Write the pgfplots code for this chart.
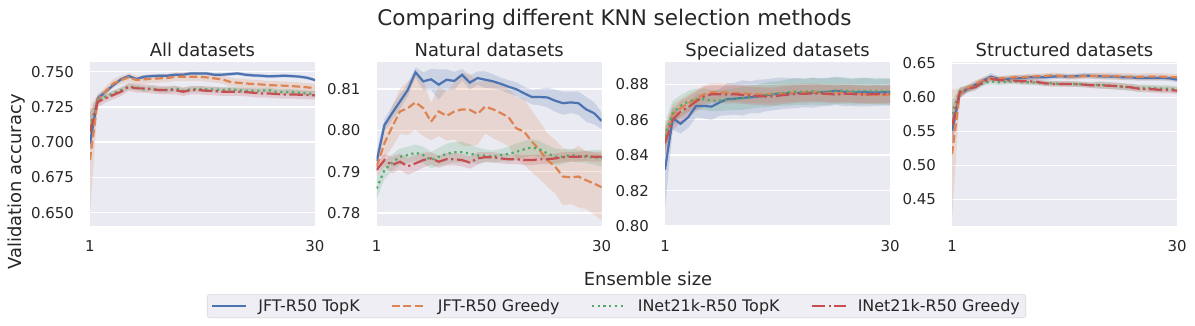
\documentclass[border=0pt]{standalone}
\usepackage{fontspec}
\setmainfont{DejaVu Sans}
\usepackage{pgfplots}
\pgfplotsset{compat=1.18}
\usepackage{pgfplotstable}
\usepgfplotslibrary{fillbetween}
\definecolor{cB}{HTML}{4C72B0}
\definecolor{cO}{HTML}{DD8452}
\definecolor{cG}{HTML}{55A868}
\definecolor{cR}{HTML}{C44E52}
\definecolor{bgc}{HTML}{EAEAF2}
\definecolor{legbg}{HTML}{EEEEF4}
\definecolor{txt}{HTML}{262626}

\pgfplotstableread{
x b bd o od g gd r rd
1 0.6992 0.0060 0.6874 0.0380 0.7110 0.0100 0.7074 0.0140
2 0.7311 0.0030 0.7299 0.0040 0.7299 0.0030 0.7287 0.0040
3 0.7358 0.0015 0.7363 0.0030 0.7323 0.0020 0.7311 0.0030
4 0.7405 0.0015 0.7417 0.0030 0.7346 0.0020 0.7335 0.0030
5 0.7446 0.0015 0.7441 0.0030 0.7370 0.0020 0.7358 0.0030
6 0.7469 0.0012 0.7460 0.0030 0.7394 0.0020 0.7394 0.0030
7 0.7448 0.0012 0.7441 0.0030 0.7389 0.0020 0.7382 0.0030
8 0.7465 0.0012 0.7446 0.0030 0.7375 0.0020 0.7382 0.0030
9 0.7469 0.0012 0.7450 0.0030 0.7382 0.0020 0.7375 0.0030
10 0.7472 0.0012 0.7453 0.0030 0.7370 0.0020 0.7370 0.0030
11 0.7472 0.0012 0.7455 0.0030 0.7370 0.0020 0.7370 0.0030
12 0.7479 0.0012 0.7465 0.0030 0.7382 0.0020 0.7370 0.0030
13 0.7479 0.0012 0.7465 0.0030 0.7365 0.0020 0.7358 0.0030
14 0.7488 0.0012 0.7465 0.0030 0.7375 0.0020 0.7370 0.0030
15 0.7488 0.0012 0.7465 0.0030 0.7379 0.0020 0.7370 0.0030
16 0.7488 0.0012 0.7460 0.0030 0.7375 0.0020 0.7365 0.0030
17 0.7479 0.0012 0.7453 0.0030 0.7375 0.0020 0.7363 0.0030
18 0.7479 0.0012 0.7446 0.0030 0.7370 0.0020 0.7358 0.0030
19 0.7483 0.0012 0.7429 0.0030 0.7375 0.0020 0.7358 0.0030
20 0.7488 0.0012 0.7422 0.0030 0.7370 0.0020 0.7358 0.0030
21 0.7479 0.0012 0.7417 0.0030 0.7365 0.0020 0.7356 0.0030
22 0.7474 0.0012 0.7413 0.0030 0.7365 0.0020 0.7351 0.0030
23 0.7472 0.0012 0.7410 0.0030 0.7365 0.0020 0.7346 0.0030
24 0.7467 0.0012 0.7405 0.0030 0.7370 0.0020 0.7346 0.0030
25 0.7469 0.0012 0.7403 0.0030 0.7358 0.0020 0.7342 0.0030
26 0.7472 0.0012 0.7401 0.0030 0.7356 0.0020 0.7339 0.0030
27 0.7469 0.0012 0.7398 0.0030 0.7356 0.0020 0.7339 0.0030
28 0.7465 0.0012 0.7394 0.0030 0.7351 0.0020 0.7337 0.0030
29 0.7457 0.0012 0.7389 0.0030 0.7346 0.0020 0.7335 0.0030
30 0.7441 0.0012 0.7384 0.0030 0.7342 0.0020 0.7332 0.0030
}\tA

\pgfplotstableread{
x b bd o od g gd r rd
1 0.7925 0.0025 0.7912 0.0012 0.7859 0.0025 0.7904 0.0015
2 0.8013 0.0015 0.7969 0.0035 0.7904 0.0022 0.7928 0.0015
3 0.8042 0.0017 0.8009 0.0050 0.7922 0.0020 0.7916 0.0020
4 0.8070 0.0018 0.8046 0.0055 0.7936 0.0020 0.7924 0.0020
5 0.8098 0.0016 0.8054 0.0065 0.7940 0.0020 0.7913 0.0020
6 0.8141 0.0012 0.8068 0.0067 0.7946 0.0020 0.7920 0.0020
7 0.8119 0.0022 0.8054 0.0068 0.7940 0.0020 0.7928 0.0018
8 0.8124 0.0025 0.8021 0.0045 0.7928 0.0020 0.7932 0.0015
9 0.8111 0.0037 0.8046 0.0060 0.7936 0.0022 0.7924 0.0015
10 0.8123 0.0025 0.8035 0.0060 0.7943 0.0025 0.7930 0.0015
11 0.8120 0.0022 0.8046 0.0068 0.7947 0.0025 0.7930 0.0015
12 0.8135 0.0014 0.8051 0.0088 0.7947 0.0025 0.7928 0.0015
13 0.8116 0.0017 0.8050 0.0088 0.7944 0.0022 0.7922 0.0015
14 0.8127 0.0016 0.8040 0.0075 0.7939 0.0020 0.7932 0.0015
15 0.8123 0.0020 0.8058 0.0065 0.7939 0.0015 0.7935 0.0012
16 0.8119 0.0017 0.8051 0.0070 0.7936 0.0015 0.7935 0.0012
17 0.8113 0.0015 0.8042 0.0070 0.7940 0.0015 0.7932 0.0012
18 0.8106 0.0016 0.8032 0.0070 0.7943 0.0018 0.7930 0.0012
19 0.8100 0.0017 0.8005 0.0075 0.7948 0.0020 0.7930 0.0012
20 0.8090 0.0016 0.7997 0.0080 0.7954 0.0020 0.7928 0.0012
21 0.8081 0.0018 0.7973 0.0075 0.7959 0.0020 0.7928 0.0012
22 0.8081 0.0020 0.7952 0.0070 0.7954 0.0020 0.7930 0.0012
23 0.8080 0.0024 0.7928 0.0065 0.7944 0.0020 0.7930 0.0012
24 0.8072 0.0027 0.7912 0.0065 0.7936 0.0020 0.7932 0.0012
25 0.8066 0.0028 0.7888 0.0070 0.7936 0.0018 0.7935 0.0012
26 0.8068 0.0026 0.7886 0.0065 0.7940 0.0015 0.7936 0.0012
27 0.8066 0.0028 0.7888 0.0075 0.7938 0.0015 0.7936 0.0012
28 0.8051 0.0030 0.7879 0.0070 0.7936 0.0015 0.7938 0.0012
29 0.8042 0.0027 0.7871 0.0075 0.7935 0.0018 0.7936 0.0012
30 0.8023 0.0020 0.7862 0.0080 0.7932 0.0020 0.7936 0.0012
}\tB

\pgfplotstableread{
x b bd o od g gd r rd
1 0.8318 0.0220 0.8487 0.0080 0.8506 0.0080 0.8468 0.0080
2 0.8609 0.0065 0.8628 0.0060 0.8637 0.0070 0.8599 0.0060
3 0.8577 0.0055 0.8665 0.0050 0.8678 0.0060 0.8646 0.0060
4 0.8614 0.0060 0.8693 0.0050 0.8703 0.0060 0.8671 0.0060
5 0.8678 0.0065 0.8716 0.0050 0.8716 0.0060 0.8703 0.0055
6 0.8678 0.0070 0.8744 0.0050 0.8716 0.0060 0.8731 0.0055
7 0.8674 0.0075 0.8755 0.0050 0.8708 0.0060 0.8744 0.0050
8 0.8697 0.0075 0.8755 0.0050 0.8708 0.0060 0.8744 0.0050
9 0.8716 0.0090 0.8753 0.0050 0.8712 0.0060 0.8742 0.0050
10 0.8719 0.0090 0.8749 0.0050 0.8716 0.0060 0.8744 0.0050
11 0.8723 0.0100 0.8749 0.0050 0.8721 0.0065 0.8740 0.0050
12 0.8727 0.0090 0.8746 0.0050 0.8727 0.0065 0.8736 0.0050
13 0.8731 0.0095 0.8744 0.0050 0.8734 0.0065 0.8734 0.0050
14 0.8738 0.0090 0.8744 0.0050 0.8740 0.0070 0.8731 0.0050
15 0.8744 0.0090 0.8746 0.0050 0.8746 0.0070 0.8731 0.0050
16 0.8749 0.0090 0.8749 0.0050 0.8749 0.0070 0.8738 0.0050
17 0.8749 0.0085 0.8751 0.0050 0.8755 0.0075 0.8742 0.0050
18 0.8751 0.0085 0.8753 0.0050 0.8759 0.0075 0.8746 0.0050
19 0.8751 0.0080 0.8755 0.0050 0.8757 0.0075 0.8746 0.0050
20 0.8753 0.0085 0.8757 0.0050 0.8761 0.0075 0.8749 0.0050
21 0.8755 0.0080 0.8753 0.0050 0.8757 0.0075 0.8748 0.0050
22 0.8757 0.0080 0.8749 0.0050 0.8759 0.0075 0.8746 0.0050
23 0.8763 0.0080 0.8751 0.0050 0.8764 0.0075 0.8742 0.0050
24 0.8757 0.0080 0.8749 0.0050 0.8763 0.0075 0.8746 0.0050
25 0.8753 0.0075 0.8749 0.0050 0.8761 0.0075 0.8746 0.0050
26 0.8755 0.0080 0.8746 0.0050 0.8761 0.0075 0.8742 0.0050
27 0.8755 0.0080 0.8742 0.0050 0.8763 0.0075 0.8742 0.0050
28 0.8753 0.0075 0.8740 0.0050 0.8761 0.0075 0.8746 0.0050
29 0.8755 0.0075 0.8740 0.0050 0.8761 0.0075 0.8744 0.0050
30 0.8755 0.0075 0.8742 0.0050 0.8759 0.0075 0.8746 0.0050
}\tC

\pgfplotstableread{
x b bd o od g gd r rd
1 0.5508 0.020 0.5164 0.095 0.5754 0.020 0.5582 0.028
2 0.6049 0.006 0.6049 0.008 0.6089 0.006 0.6074 0.007
3 0.6123 0.005 0.6138 0.005 0.6123 0.005 0.6123 0.005
4 0.6187 0.005 0.6197 0.005 0.6157 0.005 0.6148 0.005
5 0.6246 0.005 0.6256 0.004 0.6207 0.004 0.6221 0.004
6 0.6305 0.005 0.6285 0.004 0.6236 0.004 0.6270 0.004
7 0.6270 0.004 0.6275 0.004 0.6221 0.004 0.6256 0.004
8 0.6270 0.004 0.6285 0.004 0.6231 0.004 0.6246 0.004
9 0.6285 0.004 0.6295 0.004 0.6236 0.004 0.6246 0.004
10 0.6285 0.004 0.6295 0.004 0.6226 0.004 0.6236 0.004
11 0.6295 0.004 0.6305 0.004 0.6221 0.004 0.6236 0.004
12 0.6295 0.004 0.6310 0.004 0.6216 0.004 0.6226 0.004
13 0.6295 0.004 0.6315 0.004 0.6207 0.004 0.6207 0.004
14 0.6305 0.004 0.6325 0.004 0.6207 0.004 0.6197 0.004
15 0.6310 0.004 0.6315 0.004 0.6197 0.004 0.6197 0.004
16 0.6305 0.004 0.6305 0.004 0.6197 0.004 0.6197 0.004
17 0.6310 0.004 0.6305 0.004 0.6197 0.004 0.6192 0.004
18 0.6320 0.004 0.6310 0.004 0.6187 0.004 0.6187 0.004
19 0.6315 0.004 0.6315 0.004 0.6182 0.004 0.6177 0.004
20 0.6310 0.004 0.6315 0.005 0.6182 0.005 0.6177 0.005
21 0.6305 0.004 0.6315 0.005 0.6177 0.005 0.6172 0.005
22 0.6305 0.004 0.6310 0.005 0.6167 0.005 0.6167 0.005
23 0.6295 0.004 0.6305 0.005 0.6157 0.005 0.6157 0.005
24 0.6295 0.004 0.6305 0.005 0.6148 0.005 0.6148 0.005
25 0.6285 0.004 0.6300 0.005 0.6138 0.005 0.6128 0.005
26 0.6285 0.004 0.6305 0.005 0.6138 0.005 0.6123 0.005
27 0.6285 0.004 0.6305 0.005 0.6133 0.005 0.6118 0.005
28 0.6285 0.004 0.6305 0.005 0.6128 0.005 0.6108 0.005
29 0.6280 0.004 0.6300 0.005 0.6128 0.005 0.6108 0.005
30 0.6261 0.004 0.6295 0.005 0.6118 0.005 0.6098 0.005
}\tD

\pgfplotsset{
  panel/.style={
    scale only axis, width=225bp, height=164bp, anchor=south west,
    xmin=1, xmax=30, xtick={1,30},
    axis background/.style={fill=bgc},
    axis line style={draw=none},
    major tick length=0pt,
    ymajorgrids, major grid style={white, line width=1.5bp},
    tick label style={font=\fontsize{15}{18}\selectfont, text=txt, inner sep=0pt},
    /pgf/number format/assume math mode=true,
    yticklabel style={anchor=east, xshift=-16bp},
    xticklabel style={anchor=base, yshift=-26bp},
    title style={font=\fontsize{18}{21}\selectfont, text=txt, anchor=base, at={(0.5,1)}, yshift=0bp},
  },
  sB/.style={cB, line width=2.2bp, solid},
  sO/.style={cO, line width=2.2bp, dash pattern=on 8bp off 3.5bp},
  sG/.style={cG, line width=2.2bp, dash pattern=on 2.2bp off 3.6bp},
  sR/.style={cR, line width=2.2bp, dash pattern=on 13.5bp off 3.5bp on 2.2bp off 3.5bp},
}

\newcommand{\series}[4]{%
  \addplot[name path=U,draw=none,forget plot] table[x=x,y expr=\thisrow{#2}+\thisrow{#2d}]{#1};
  \addplot[name path=L,draw=none,forget plot] table[x=x,y expr=\thisrow{#2}-\thisrow{#2d}]{#1};
  \addplot[fill=#3,fill opacity=0.2,draw=none,forget plot] fill between[of=U and L];
  \addplot[#4] table[x=x,y=#2]{#1};
}
\newcommand{\allseries}[1]{%
  \series{#1}{b}{cB}{sB}
  \series{#1}{o}{cO}{sO}
  \series{#1}{g}{cG}{sG}
  \series{#1}{r}{cR}{sR}
}

\begin{document}
\begin{tikzpicture}

\begin{axis}[panel, at={(90bp,100bp)}, title={All datasets},
  ymin=0.6406, ymax=0.7569, ytick={0.65,0.675,0.7,0.725,0.75},
  yticklabel style={/pgf/number format/.cd, fixed, fixed zerofill, precision=3},
  legend columns=4,
  legend image code/.code={\draw[#1] (0bp,0bp) -- (34bp,0bp);},
  legend style={at={(2.34,-0.488)}, anchor=center, draw=black!20, fill=legbg,
    rounded corners=3bp, font=\fontsize{16}{19}\selectfont, text=txt,
    inner xsep=4bp, inner ysep=3bp,
    /tikz/every odd column/.append style={column sep=9bp},
    /tikz/every even column/.append style={column sep=29bp}},
  legend cell align=left]
\allseries{\tA}
\legend{JFT-R50 TopK, JFT-R50 Greedy, INet21k-R50 TopK, INet21k-R50 Greedy}
\end{axis}

\begin{axis}[panel, at={(376.7bp,100bp)}, title={Natural datasets},
  ymin=0.7768, ymax=0.8166, ytick={0.78,0.79,0.80,0.81},
  yticklabel style={/pgf/number format/.cd, fixed, fixed zerofill, precision=2}]
\allseries{\tB}
\end{axis}

\begin{axis}[panel, at={(665bp,100bp)}, title={Specialized datasets},
  ymin=0.80, ymax=0.8926, ytick={0.80,0.82,0.84,0.86,0.88},
  yticklabel style={/pgf/number format/.cd, fixed, fixed zerofill, precision=2}]
\allseries{\tC}
\end{axis}

\begin{axis}[panel, at={(952bp,100bp)}, title={Structured datasets},
  ymin=0.4107, ymax=0.652, ytick={0.45,0.50,0.55,0.60,0.65},
  yticklabel style={/pgf/number format/.cd, fixed, fixed zerofill, precision=2}]
\allseries{\tD}
\end{axis}

\node[anchor=base, font=\fontsize{21.6}{26}\selectfont, text=txt] at (614.5bp,300bp) {Comparing different KNN selection methods};
\node[anchor=base, font=\fontsize{18}{21}\selectfont, text=txt] at (648bp,40bp) {Ensemble size};
\node[anchor=base, rotate=90, font=\fontsize{18}{21}\selectfont, text=txt] at (21bp,144bp) {Validation accuracy};
\path (0,0) rectangle (1195bp,326bp);
\end{tikzpicture}
\end{document}
